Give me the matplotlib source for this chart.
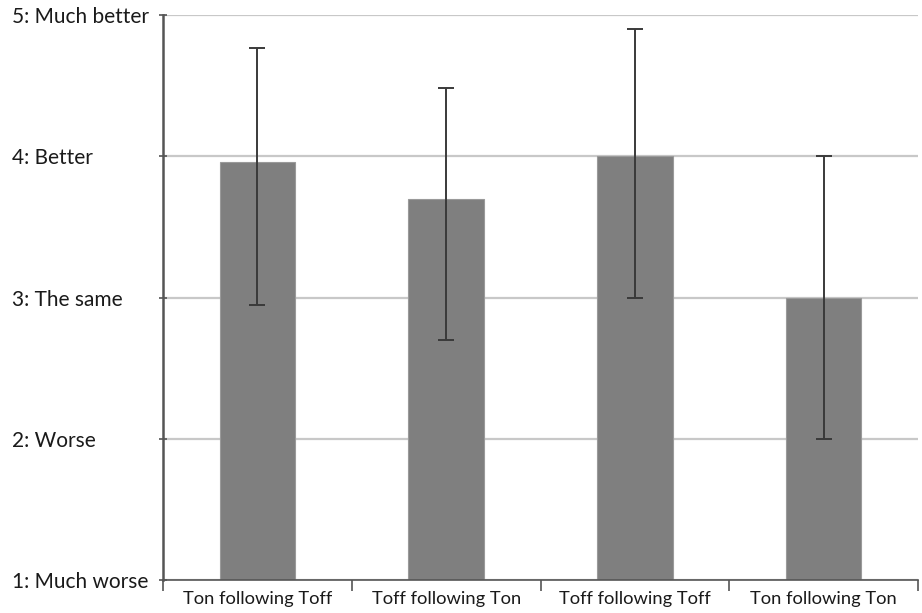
import numpy as np
import matplotlib.pyplot as plt

# Data
categories = ["Ton following Toff", "Toff following Ton", "Toff following Toff", "Ton following Ton"]
means = [3.96, 3.70, 4.00, 3.00]
err_low = [1.01, 1.00, 1.00, 1.00]
err_high = [0.81, 0.78, 0.90, 1.00]
levels = [1, 2, 3, 4, 5]
level_labels = ["1: Much worse", "2: Worse", "3: The same", "4: Better", "5: Much better"]

plt.rcParams['font.family'] = ['Lato', 'DejaVu Sans']

fig = plt.figure(figsize=(9.22, 6.13), dpi=100)
ax = fig.add_axes([0.1768, 0.0538, 0.8189, 0.9217])

x = np.arange(len(categories))
ax.bar(x, np.array(means) - 1, bottom=1, width=0.4, color='#7f7f7f',
       edgecolor='#9a9a9a', linewidth=0.8, zorder=2)
ax.errorbar(x, means, yerr=[err_low, err_high], fmt='none', ecolor='#3a3a3a',
            elinewidth=1.4, capsize=6, capthick=1.4, zorder=3)

ax.set_xlim(-0.5, len(categories) - 0.5)
ax.set_ylim(1, 5)

# gridlines
ax.set_yticks(levels)
ax.set_yticklabels(level_labels, fontsize=15, color='#1a1a1a', ha='left')
ax.yaxis.grid(True, color='#c8c8c8', linewidth=1.6, zorder=0)
ax.set_axisbelow(True)
ax.tick_params(axis='y', direction='inout', length=6, width=1.2, color='#555555', pad=106)

ax.set_xticks(x)
ax.set_xticklabels(categories, fontsize=13.2, color='#1a1a1a')
ax.set_xticks(np.arange(-0.5, len(categories)), minor=True)
ax.tick_params(axis='x', which='major', length=0, pad=8)
ax.tick_params(axis='x', which='minor', direction='out', length=8, width=1.2, color='#555555')

for s in ['top', 'right']:
    ax.spines[s].set_visible(False)
ax.spines['left'].set_color('#555555')
ax.spines['left'].set_linewidth(1.8)
ax.spines['bottom'].set_color('#555555')
ax.spines['bottom'].set_linewidth(1.2)

fig.savefig('out.png', dpi=100)
